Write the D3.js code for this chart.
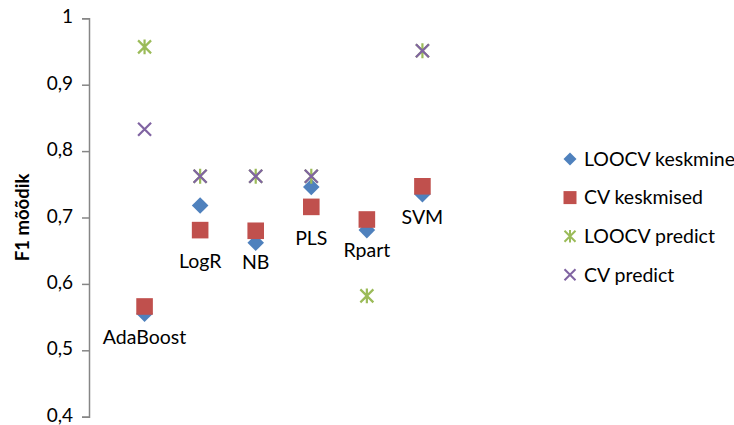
<!DOCTYPE html>
<html>
<head>
<meta charset="utf-8">
<script src="https://cdn.jsdelivr.net/npm/d3@7"></script>
<style>
  html, body { margin: 0; padding: 0; background: #fff; }
  svg { display: block; font-family: "Lato", "Open Sans", sans-serif; }
</style>
</head>
<body>
<svg id="chart" width="734" height="425"></svg>
<script>
// F1 scores per classifier
const categories   = ["AdaBoost", "LogR", "NB", "PLS", "Rpart", "SVM"];
const loocvMean    = [0.555, 0.718, 0.662, 0.746, 0.681, 0.735];
const cvMean       = [0.566, 0.681, 0.680, 0.716, 0.697, 0.747];
const loocvPredict = [0.957, 0.762, 0.762, 0.762, 0.582, 0.951];
const cvPredict    = [0.833, 0.762, 0.762, 0.762, null, 0.951];
const yTicks       = [0.4, 0.5, 0.6, 0.7, 0.8, 0.9, 1];
const seriesNames  = ["LOOCV keskmine", "CV keskmised", "LOOCV predict", "CV predict"];

const colors = {
  diamond: "#4F81BD",
  square:  "#C0504D",
  star:    "#9BBB59",
  cross:   "#8064A2"
};

const svg = d3.select("#chart");

const x = d3.scaleLinear().domain([0, 7]).range([89, 478]);
const y = d3.scaleLinear().domain([0.4, 1]).range([416.7, 18.3]);

// y axis
const yAxis = d3.axisLeft(y)
  .tickValues(yTicks)
  .tickSize(7)
  .tickPadding(9)
  .tickFormat(d => d3.format("")(d).replace(".", ","));

const gy = svg.append("g")
  .attr("transform", `translate(${x(0)},0)`)
  .call(yAxis);
gy.select(".domain").attr("stroke", "#868686").attr("stroke-width", 1.5);
gy.selectAll(".tick line").attr("stroke", "#868686").attr("stroke-width", 1.5);
gy.selectAll(".tick text")
  .attr("fill", "#000")
  .attr("dy", "0.24em")
  .style("font-size", "19px")
  .style("font-family", "Lato, sans-serif");

// y axis title
svg.append("text")
  .attr("transform", `translate(29,${(y(0.4) + y(1)) / 2}) rotate(-90)`)
  .attr("text-anchor", "middle")
  .style("font-size", "18.5px")
  .style("font-weight", "bold")
  .text("F1 mõõdik");

const pts = arr => arr.map((v, i) => ({ i, v })).filter(d => d.v !== null);

// marker shape generators
const diamondPath = s => `M0,${-s}L${s},0L0,${s}L${-s},0Z`;
const squarePath  = s => `M${-s},${-s}H${s}V${s}H${-s}Z`;
const crossPath   = s => `M${-s},${-s}L${s},${s}M${-s},${s}L${s},${-s}`;
const starPath    = s => `${crossPath(s)}M0,${-s * 1.15}V${s * 1.15}`;

function drawSeries(arr, path, fill, stroke, sw) {
  svg.append("g").selectAll("path")
    .data(pts(arr))
    .join("path")
    .attr("transform", d => `translate(${x(d.i + 1)},${y(d.v)})`)
    .attr("d", path)
    .attr("fill", fill)
    .attr("stroke", stroke)
    .attr("stroke-width", sw);
}

drawSeries(loocvMean, diamondPath(8.3), colors.diamond, "none", 0);
drawSeries(cvMean, squarePath(8.3), colors.square, "none", 0);
drawSeries(loocvPredict, starPath(6.5), "none", colors.star, 2.2);
drawSeries(cvPredict, crossPath(6.5), "none", colors.cross, 2.2);

// category labels under the CV keskmised marks
svg.append("g").selectAll("text")
  .data(pts(cvMean))
  .join("text")
  .attr("x", d => x(d.i + 1))
  .attr("y", d => y(d.v) + 31)
  .attr("dy", "0.35em")
  .attr("text-anchor", "middle")
  .style("font-size", "19.5px")
  .text(d => categories[d.i]);

// legend
const legendTop = 159, legendStep = 38.6, lx = 570;
const legendShapes = [
  { p: diamondPath(6.5), fill: colors.diamond, stroke: "none", sw: 0 },
  { p: squarePath(6.5),  fill: colors.square,  stroke: "none", sw: 0 },
  { p: starPath(5.5),    fill: "none", stroke: colors.star,  sw: 2 },
  { p: crossPath(5.5),   fill: "none", stroke: colors.cross, sw: 2 }
];
const lg = svg.append("g").selectAll("g")
  .data(seriesNames)
  .join("g")
  .attr("transform", (d, i) => `translate(${lx},${legendTop + i * legendStep})`);
lg.append("path")
  .attr("d", (d, i) => legendShapes[i].p)
  .attr("fill", (d, i) => legendShapes[i].fill)
  .attr("stroke", (d, i) => legendShapes[i].stroke)
  .attr("stroke-width", (d, i) => legendShapes[i].sw);
lg.append("text")
  .attr("x", 14)
  .attr("dy", "0.35em")
  .style("font-size", "19.5px")
  .text(d => d);
</script>
</body>
</html>
